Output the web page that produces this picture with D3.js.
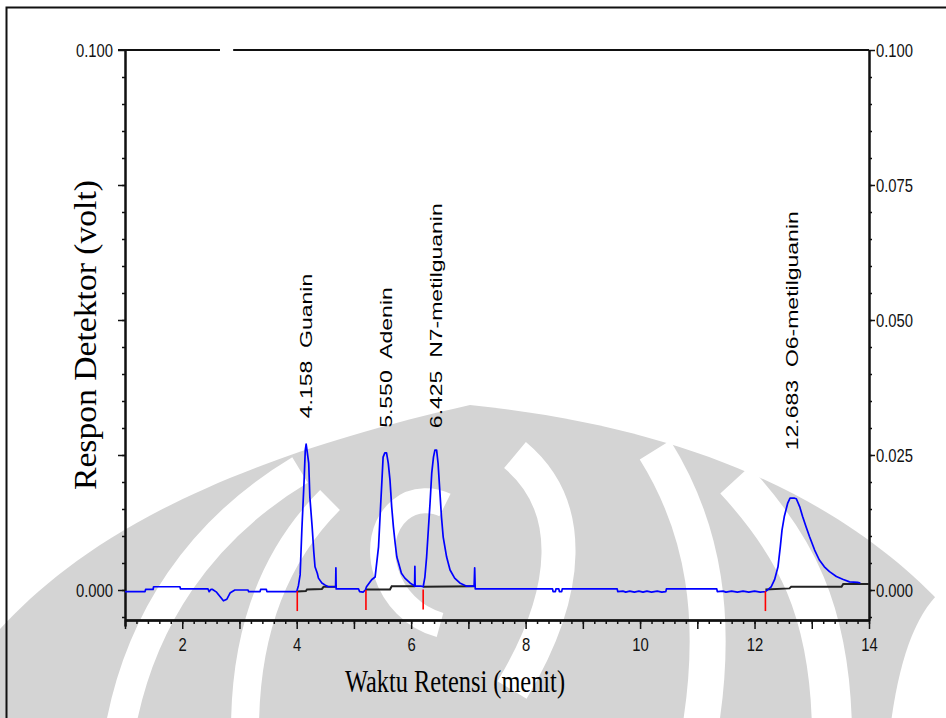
<!DOCTYPE html>
<html>
<head>
<meta charset="utf-8">
<script src="https://cdn.jsdelivr.net/npm/d3@7"></script>
<style>
body { margin: 0; background: #fff; }
</style>
</head>
<body>
<div id="chart"></div>
<script>
// detector trace (time in minutes, response in volt)
const traceT = [1.00, 1.35, 1.36, 1.49, 1.50, 1.96, 1.97, 2.45, 2.47, 2.50, 2.53, 2.60, 2.66, 2.72, 2.78, 2.84, 2.92, 3.15, 3.16, 3.36, 3.37, 3.47, 3.48, 4.00,
  4.03, 4.06, 4.09, 4.13, 4.15, 4.165, 4.18, 4.21, 4.23, 4.27, 4.30, 4.32, 4.36, 4.38, 4.44, 4.50, 4.55, 4.68, 4.685, 4.69, 5.08, 5.10, 5.16, 5.20,
  5.22, 5.31, 5.37, 5.43, 5.46, 5.49, 5.51, 5.54, 5.57, 5.60, 5.63, 5.66, 5.69, 5.72, 5.75, 5.78, 5.83, 5.89, 5.98, 6.04, 6.06, 6.065, 6.07, 6.18, 6.21,
  6.24, 6.27, 6.30, 6.33, 6.36, 6.39, 6.415, 6.445, 6.47, 6.50, 6.53, 6.56, 6.62, 6.68, 6.76, 6.85, 6.97, 7.10, 7.11, 7.12,
  8.47, 8.48, 8.52, 8.53, 8.58, 8.59, 8.63, 8.64, 9.60, 9.61, 9.70, 9.75, 9.82, 9.90, 9.98, 10.05, 10.12, 10.20, 10.30, 10.38, 10.45, 10.46,
  11.34, 11.35, 11.45, 11.50, 11.60, 11.70, 11.80, 11.90, 12.00, 12.10, 12.19,
  12.25, 12.29, 12.35, 12.41, 12.45, 12.48, 12.52, 12.58, 12.62, 12.70, 12.73, 12.79, 12.84, 12.90, 12.96, 13.05, 13.13, 13.22, 13.31, 13.43, 13.54, 13.66, 13.80, 13.85];
const traceV = [-0.0003, -0.0003, 0.0001, 0.0001, 0.0006, 0.0006, 0.0002, 0.0002, -0.0003, 0.0001, 0.0001, -0.0004, -0.0012, -0.0020, -0.0017, -0.0005, 0.0000, 0.0000, -0.0003, -0.0003, 0.0001, 0.0001, -0.0003, -0.0003,
  0.0008, 0.0028, 0.0111, 0.0204, 0.0259, 0.0270, 0.0259, 0.0235, 0.0172, 0.0117, 0.0069, 0.0043, 0.0031, 0.0022, 0.0013, 0.0009, 0.0006, 0.0006, 0.0041, 0.0002, 0.0002, -0.0003, -0.0004, 0.0000,
  0.0006, 0.0019, 0.0024, 0.0080, 0.0143, 0.0204, 0.0246, 0.0254, 0.0254, 0.0235, 0.0204, 0.0154, 0.0117, 0.0087, 0.0061, 0.0050, 0.0031, 0.0022, 0.0013, 0.0009, 0.0007, 0.0044, 0.0007, 0.0007, 0.0006,
  0.0024, 0.0061, 0.0111, 0.0161, 0.0217, 0.0246, 0.0259, 0.0259, 0.0235, 0.0185, 0.0135, 0.0098, 0.0061, 0.0037, 0.0022, 0.0013, 0.0007, 0.0007, 0.0041, 0.0002,
  0.0002, -0.0003, -0.0003, 0.0002, 0.0002, -0.0003, -0.0003, 0.0002, 0.0002, -0.0003, -0.0002, -0.0004, -0.0002, -0.0004, -0.0002, -0.0004, -0.0002, -0.0004, -0.0002, -0.0004, -0.0003, 0.0002,
  0.0002, -0.0003, -0.0002, -0.0004, -0.0002, -0.0004, -0.0002, -0.0004, -0.0002, -0.0004, -0.0003,
  0.0002, 0.0006, 0.0019, 0.0043, 0.0080, 0.0111, 0.0136, 0.0161, 0.0170, 0.0170, 0.0169, 0.0154, 0.0136, 0.0117, 0.0099, 0.0074, 0.0056, 0.0043, 0.0034, 0.0025, 0.0020, 0.0015, 0.0014, 0.0013];

// integration baselines
const baseGuanin = [[4.01, -0.0003], [4.16, -0.0002], [4.18, 0.0001], [4.44, 0.0002], [4.47, 0.0006], [4.69, 0.0006]];
const baseAdenin = [[5.21, 0.0001], [5.63, 0.0001], [5.66, 0.0007], [6.07, 0.0007]];
const baseN7 = [[6.21, 0.0006], [7.11, 0.0007]];
const baseO6 = [[12.19, 0.0001], [12.61, 0.0003], [12.64, 0.0006], [13.52, 0.0006], [13.55, 0.0011], [14.0, 0.0011]];

// peak start markers
const markerT = [4.01, 5.21, 6.21, 12.19];
const markerV = [-0.0002, 0.0000, 0.0001, -0.0002];

// peaks
const peakRT = ["4.158", "5.550", "6.425", "12.683"];
const peakName = ["Guanin", "Adenin", "N7-metilguanin", "O6-metilguanin"];
const peakT = [4.165, 5.555, 6.43, 12.66];
const peakV = [0.0270, 0.0254, 0.0259, 0.0170];

const xTickLabels = [2, 4, 6, 8, 10, 12, 14];
const yTickLabels = [0, 0.025, 0.05, 0.075, 0.1];

const W = 946, H = 718;
const svg = d3.select("#chart").append("svg")
  .attr("width", W).attr("height", H)
  .style("display", "block");

const x = d3.scaleLinear().domain([1, 14]).range([125, 869]);
const y = d3.scaleLinear().domain([0, 0.1]).range([590, 50]);
const yBottom = 620;

// watermark behind the chart
const wm = svg.append("g");
wm.append("path")
  .attr("d", "M-10,718 L-10,640 C60,560 180,470 470,405 C720,430 870,520 956,620 L956,718 Z")
  .attr("fill", "#d4d4d4");
const bands = [
  ["M120,730 C140,620 200,530 300,470", 30],
  ["M245,730 C245,640 270,560 330,500", 28],
  ["M440,625 C385,610 365,540 400,510 C415,497 435,500 445,505", 25],
  ["M515,455 C575,505 572,590 512,690", 34],
  ["M655,450 C705,530 718,620 700,730", 36],
  ["M735,480 C795,545 830,610 832,730", 40]
];
bands.forEach(b => {
  wm.append("path").attr("d", b[0]).attr("fill", "none")
    .attr("stroke", "#fff").attr("stroke-width", b[1]);
});
wm.append("path").attr("d", "M890,730 C900,650 920,600 956,580 L956,730 Z").attr("fill", "#fff");

// outer frame
svg.append("rect")
  .attr("x", 6.5).attr("y", 7.5).attr("width", 980).attr("height", 740)
  .attr("fill", "none").attr("stroke", "#111").attr("stroke-width", 2);

const ink = "#111";
const tickFont = "'Liberation Sans', Arial, sans-serif";
const squeeze = 0.78;

// narrow the tick labels like the original screenshot
function narrow(sel) {
  sel.each(function () {
    const L = this.getComputedTextLength();
    d3.select(this).attr("textLength", L * squeeze).attr("lengthAdjust", "spacingAndGlyphs");
  });
}

// bottom axis
const gx = svg.append("g").attr("transform", `translate(0,${yBottom})`);
gx.append("g").call(d3.axisBottom(x).tickValues(d3.range(1.2, 14.01, 0.2)).tickSize(4).tickSizeOuter(0).tickFormat(""));
gx.append("g").call(d3.axisBottom(x).tickValues(d3.range(1, 15, 1)).tickSize(9).tickSizeOuter(0).tickFormat(""));
gx.append("g").call(d3.axisBottom(x).tickValues(xTickLabels).tickSize(0).tickPadding(18).tickSizeOuter(0).tickFormat(d3.format("d")));
gx.selectAll("path.domain").attr("stroke", ink).attr("stroke-width", 2);
gx.selectAll(".tick line").attr("stroke", ink).attr("stroke-width", 1.5);
gx.selectAll("text").attr("font-family", tickFont).attr("font-size", 19).attr("fill", ink).call(narrow);

// left axis
const yAx = y.copy().domain([y.invert(yBottom + 6), 0.1]).range([yBottom + 6, 50]);
const gl = svg.append("g").attr("transform", "translate(125,0)");
gl.append("g").call(d3.axisLeft(yAx).tickValues(d3.range(-0.005, 0.1, 0.005)).tickSize(3).tickSizeOuter(0).tickFormat(""));
gl.append("g").call(d3.axisLeft(yAx).tickValues(yTickLabels).tickSize(7).tickSizeOuter(0)
  .tickFormat(d => (d === 0 || d === 0.1) ? d3.format(".3f")(d) : ""));
gl.selectAll("path.domain").attr("stroke", ink).attr("stroke-width", 2);
gl.selectAll(".tick line").attr("stroke", ink).attr("stroke-width", 1.5);
gl.selectAll("text").attr("font-family", tickFont).attr("font-size", 19).attr("fill", ink).attr("dx", -2).call(narrow);

// right axis
const yAr = y.copy().domain([y.invert(yBottom), 0.1]).range([yBottom, 50]);
const gr = svg.append("g").attr("transform", "translate(869,0)");
gr.append("g").call(d3.axisRight(yAr).tickValues(d3.range(-0.005, 0.1, 0.005)).tickSize(3).tickSizeOuter(0).tickFormat(""));
gr.append("g").call(d3.axisRight(yAr).tickValues(yTickLabels).tickSize(6).tickSizeOuter(0).tickPadding(1).tickFormat(d3.format(".3f")));
gr.selectAll("path.domain").attr("stroke", ink).attr("stroke-width", 2);
gr.selectAll(".tick line").attr("stroke", ink).attr("stroke-width", 1.5);
gr.selectAll("text").attr("font-family", tickFont).attr("font-size", 19).attr("fill", ink).call(narrow);

// top border with its gap
const gapT = [2.66, 2.89];
svg.append("line").attr("x1", x(1) - 7).attr("x2", x(gapT[0])).attr("y1", y(0.1)).attr("y2", y(0.1))
  .attr("stroke", ink).attr("stroke-width", 2);
svg.append("line").attr("x1", x(gapT[1])).attr("x2", x(14)).attr("y1", y(0.1)).attr("y2", y(0.1))
  .attr("stroke", ink).attr("stroke-width", 2);

// integration baselines
const line = d3.line().x(d => x(d[0])).y(d => y(d[1]));
[baseGuanin, baseAdenin, baseN7, baseO6].forEach(b => {
  svg.append("path").attr("d", line(b)).attr("fill", "none")
    .attr("stroke", "#222").attr("stroke-width", 2);
});

// trace
const trace = traceT.map((t, i) => [t, traceV[i]]);
svg.append("path").attr("d", line(trace)).attr("fill", "none")
  .attr("stroke", "#0000ff").attr("stroke-width", 1.7).attr("stroke-linejoin", "round");

// peak start markers
svg.selectAll("line.marker").data(markerT).enter().append("line")
  .attr("class", "marker")
  .attr("x1", d => x(d)).attr("x2", d => x(d))
  .attr("y1", (d, i) => y(markerV[i])).attr("y2", (d, i) => y(markerV[i] - 0.0037))
  .attr("stroke", "#ff0000").attr("stroke-width", 1.6);

// peak labels
const labelLift = [26, 25, 22, 48];
peakRT.forEach((rt, i) => {
  svg.append("text")
    .attr("transform", `translate(${x(peakT[i])},${y(peakV[i]) - labelLift[i]}) scale(0.73,1) rotate(-90)`)
    .attr("xml:space", "preserve")
    .style("white-space", "pre")
    .attr("dy", "0.36em")
    .attr("font-family", "'Liberation Sans', Arial, sans-serif")
    .attr("font-size", 23)
    .attr("fill", "#000")
    .text(`${rt}  ${peakName[i]}`);
});

// axis titles
svg.append("rect").attr("x", 62).attr("y", 170).attr("width", 48).attr("height", 330).attr("fill", "#fff");
svg.append("text")
  .attr("transform", "translate(86,335) rotate(-90)")
  .attr("text-anchor", "middle").attr("dy", "0.33em")
  .attr("textLength", 310).attr("lengthAdjust", "spacingAndGlyphs")
  .attr("font-family", "'Liberation Serif', 'Times New Roman', serif")
  .attr("font-size", 31)
  .attr("fill", "#000")
  .text("Respon Detektor (volt)");

svg.append("text")
  .attr("x", 455).attr("y", 692)
  .attr("text-anchor", "middle")
  .attr("textLength", 220).attr("lengthAdjust", "spacingAndGlyphs")
  .attr("font-family", "'Liberation Serif', 'Times New Roman', serif")
  .attr("font-size", 32)
  .attr("fill", "#000")
  .text("Waktu Retensi (menit)");
</script>
</body>
</html>
